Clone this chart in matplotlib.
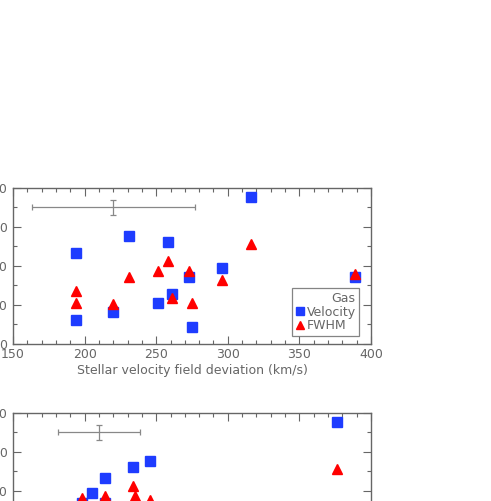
import matplotlib
matplotlib.use("Agg")
import matplotlib.pyplot as plt
from matplotlib.ticker import MultipleLocator
from matplotlib.lines import Line2D

# Top panel data
top_vel_x = [194, 194, 220, 231, 258, 251, 261, 273, 275, 296, 316, 389]
top_vel_y = [234, 62, 83, 278, 262, 105, 128, 171, 43, 194, 378, 173]
top_fwhm_x = [194, 194, 220, 231, 251, 258, 261, 273, 275, 296, 316, 389]
top_fwhm_y = [137, 104, 102, 173, 188, 213, 119, 187, 104, 163, 256, 179]
top_err = dict(x=220, y=350, xerr=57, yerr=20)

# Bottom panel data (visible part)
bot_vel_x = [198, 205, 214, 214, 234, 246, 376]
bot_vel_y = [168, 194, 233, 168, 261, 277, 377]
bot_fwhm_x = [198, 214, 234, 235, 246, 376]
bot_fwhm_y = [182, 186, 212, 186, 176, 256]
bot_err = dict(x=210, y=350, xerr=28.5, yerr=20)

xlabel = "Stellar velocity field deviation (km/s)"
legend_title = "Gas"
legend_labels = ["Velocity", "FWHM"]

BLUE = "#1e3cff"
RED = "#ff0000"
GRAY = "#666666"
EGRAY = "#888888"

fig = plt.figure(figsize=(4.91, 5.01), dpi=100)

def setup(ax):
    ax.set_xlim(150, 400)
    ax.set_ylim(0, 400)
    ax.xaxis.set_major_locator(MultipleLocator(50))
    ax.xaxis.set_minor_locator(MultipleLocator(10))
    ax.yaxis.set_major_locator(MultipleLocator(100))
    ax.yaxis.set_minor_locator(MultipleLocator(50))
    ax.tick_params(which="both", direction="in", top=True, right=True,
                   colors=GRAY, labelsize=9, labelcolor=GRAY)
    ax.tick_params(which="major", length=6, width=0.8)
    ax.tick_params(which="minor", length=3, width=0.8)
    ax.tick_params(axis="y", pad=4)
    ax.tick_params(axis="x", pad=3)
    for s in ax.spines.values():
        s.set_color(GRAY)
        s.set_linewidth(1.0)

ax1 = fig.add_axes([0.0265, 0.3134, 0.729, 0.3114])
setup(ax1)
ax1.errorbar(top_err["x"], top_err["y"], xerr=top_err["xerr"], yerr=top_err["yerr"],
             color=EGRAY, lw=0.9, capsize=2.5, capthick=0.9, fmt="none")
ax1.plot(top_vel_x, top_vel_y, "s", color=BLUE, ms=7, mec=BLUE, ls="none")
ax1.plot(top_fwhm_x, top_fwhm_y, "^", color=RED, ms=7.5, mec=RED, ls="none")
ax1.set_xlabel(xlabel, color=GRAY, fontsize=9, labelpad=2)

handles = [Line2D([], [], marker="s", color=BLUE, ls="none", ms=5.5),
           Line2D([], [], marker="^", color=RED, ls="none", ms=6)]
leg = ax1.legend(handles, legend_labels, title=legend_title, loc="lower right",
                 bbox_to_anchor=(0.968, 0.05), frameon=True, fancybox=False,
                 fontsize=9, title_fontsize=9, handletextpad=0.1,
                 handlelength=0.8, borderpad=0.3, labelspacing=0.05,
                 borderaxespad=0)
leg.get_frame().set_edgecolor(GRAY)
leg.get_frame().set_linewidth(0.9)
for t in leg.get_texts():
    t.set_color(GRAY)
leg.get_title().set_color(GRAY)
leg._legend_box.align = "right"

ax2 = fig.add_axes([0.0265, -0.1357, 0.729, 0.3114])
setup(ax2)
ax2.errorbar(bot_err["x"], bot_err["y"], xerr=bot_err["xerr"], yerr=bot_err["yerr"],
             color=EGRAY, lw=0.9, capsize=2.5, capthick=0.9, fmt="none")
ax2.plot(bot_vel_x, bot_vel_y, "s", color=BLUE, ms=7, mec=BLUE, ls="none")
ax2.plot(bot_fwhm_x, bot_fwhm_y, "^", color=RED, ms=7.5, mec=RED, ls="none")

fig.savefig("out.png", dpi=100)
